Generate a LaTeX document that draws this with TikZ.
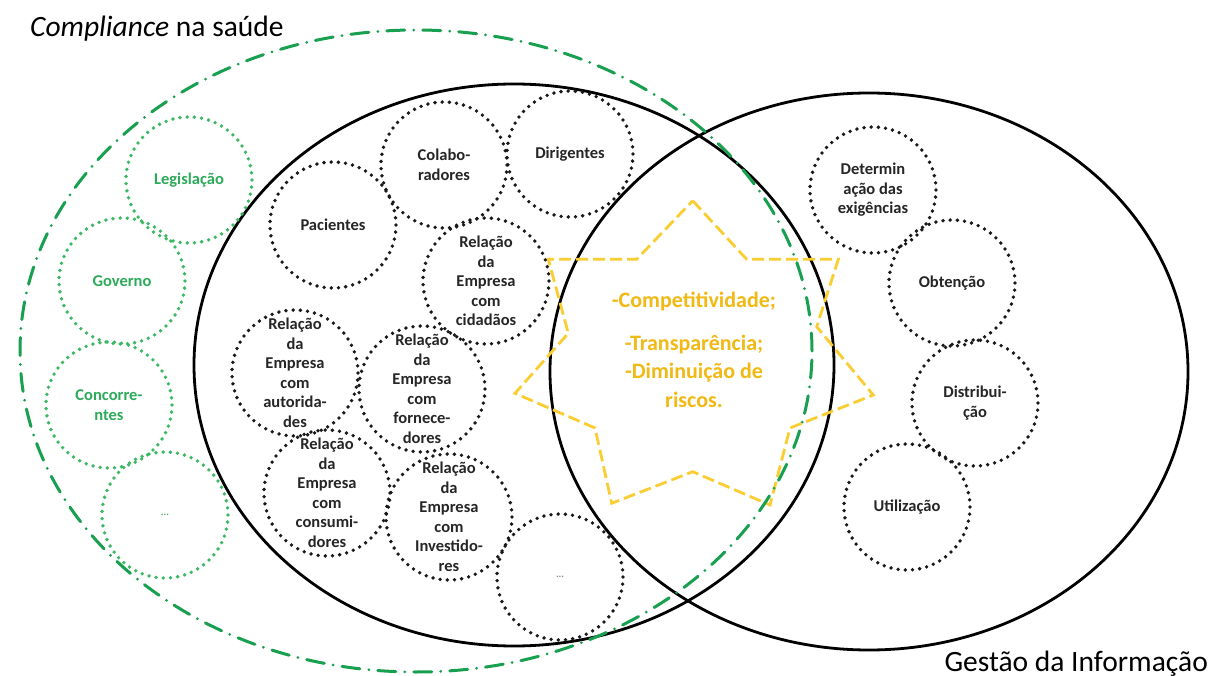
\documentclass[tikz,border=0pt]{standalone}
\usepackage{fontspec}
\setmainfont{Carlito}
\definecolor{gline}{RGB}{24,160,80}
\definecolor{gdot}{RGB}{60,185,100}
\definecolor{gtxt}{RGB}{45,170,90}
\definecolor{starline}{RGB}{250,205,50}
\definecolor{startxt}{RGB}{240,185,20}
\begin{document}
\begin{tikzpicture}[x=1pt,y=-1pt,
  bigc/.style={line width=2.8pt, draw=black},
  dotc/.style={circle, draw=black!90, line width=3.8pt, dash pattern=on 0pt off 7.2pt, line cap=round, minimum size=126pt, inner sep=0pt},
  gdotc/.style={dotc, draw=gdot},
  ctext/.style={font=\fontsize{16.5}{19.5}\selectfont\bfseries, align=center, text=black!85},
  gtext/.style={ctext, text=gtxt},
  dtext/.style={font=\fontsize{10}{12}\selectfont\bfseries, text=black!45},
  starshape/.style={draw=starline, line width=2.8pt, dash pattern=on 12pt off 5pt, line join=miter},
  gellipse/.style={draw=gline, line width=3pt, line cap=round, dash pattern=on 18pt off 9pt on 0pt off 9pt},
  titletext/.style={font=\fontsize{29.5}{32}\selectfont}
]
\useasboundingbox (0,0) rectangle (1213,676);
\fill[white] (0,0) rectangle (1213,676);

% big sets
\draw[bigc] (514,365) ellipse [x radius=320pt, y radius=281pt];
\draw[bigc] (869,371.5) ellipse [x radius=319pt, y radius=278.5pt];

% green dotted circles
\node[gdotc] (leg) at (189,180) {};
\node[gtext] (leg-t) at (leg) {Legislação};
\node[gdotc] (gov) at (122,281) {};
\node[gtext] (gov-t) at (gov) {Governo};
\node[gdotc] (conc) at (109,405) {};
\node[gtext] (conc-t) at (conc) {Concorre-\\ntes};
\node[gdotc] (gdots) at (165,515) {};
\node[dtext, text=gdot!70!gray] (gdots-t) at (gdots) {...};

% black dotted circles (left set)
\node[dotc] (pac) at (333,225) {};
\node[ctext] (pac-t) at (pac) {Pacientes};
\node[dotc] (col) at (444,165) {};
\node[ctext] (col-t) at (col) {Colabo-\\radores};
\node[dotc] (dir) at (570,154) {};
\node[ctext] (dir-t) at (dir) {Dirigentes};
\node[dotc] (cid) at (486,281) {};
\node[ctext] (cid-t) at (cid) {Relação\\da\\Empresa\\com\\cidadãos};
\node[dotc] (aut) at (295,373) {};
\node[ctext] (aut-t) at (aut) {Relação\\da\\Empresa\\com\\autorida-\\des};
\node[dotc] (forn) at (422,389) {};
\node[ctext] (forn-t) at (forn) {Relação\\da\\Empresa\\com\\fornece-\\dores};
\node[dotc] (cons) at (327,493) {};
\node[ctext] (cons-t) at (cons) {Relação\\da\\Empresa\\com\\consumi-\\dores};
\node[dotc] (inv) at (449,517) {};
\node[ctext] (inv-t) at (inv) {Relação\\da\\Empresa\\com\\Investido-\\res};
\node[dotc] (bdots) at (560,577) {};
\node[dtext] (bdots-t) at (bdots) {...};

% black dotted circles (right set)
\node[dotc] (det) at (873,190) {};
\node[ctext] (det-t) at (det) {Determin\\ação das\\exigências};
\node[dotc] (obt) at (952,283) {};
\node[ctext] (obt-t) at (obt) {Obtenção};
\node[dotc] (dis) at (975,403) {};
\node[ctext] (dis-t) at (dis) {Distribui-\\ção};
\node[dotc] (uti) at (907,507) {};
\node[ctext] (uti-t) at (uti) {Utilização};

% star
\draw[starshape] (692.7,200.7) -- (746.7,259.3) -- (838.3,259.3) -- (816.7,326.7)
  -- (873.3,395) -- (790,428) -- (770,505) -- (692.7,471.7) -- (611.7,503.3)
  -- (595,428) -- (515,393.3) -- (568.3,333.3) -- (548.3,259.3) -- (636.7,259.3) -- cycle;
\node[font=\fontsize{22}{28.5}\selectfont\bfseries, text=startxt, align=center] (benef) at (694,350)
  {-Competitividade;\\[14pt]-Transparência;\\-Diminuição de\\riscos.};

% compliance set
\draw[gellipse] (416,351) ellipse [x radius=396pt, y radius=321pt];

% titles
\node[titletext, anchor=base west, inner sep=0pt] (title) at (30,37) {\textit{Compliance} na saúde};
\node[titletext, anchor=base east, inner sep=0pt] (gi) at (1208,671) {Gestão da Informação};
\end{tikzpicture}
\end{document}
